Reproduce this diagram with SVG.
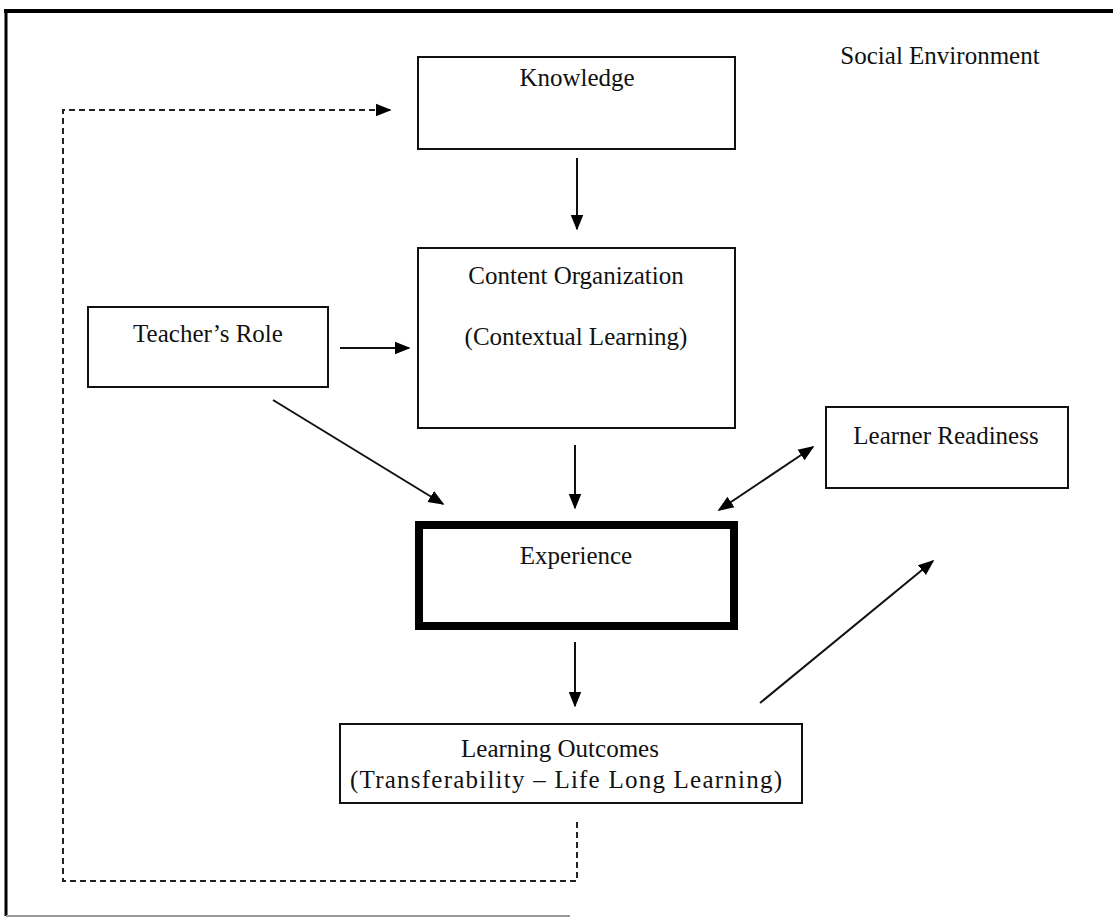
<svg xmlns="http://www.w3.org/2000/svg" width="1113" height="918" viewBox="0 0 1113 918">
<style>
.box{fill:#fff;stroke:#111;stroke-width:2}
.thick{fill:#fff;stroke:#000;stroke-width:8}
.t{font-family:"Liberation Serif","Times New Roman",serif;font-size:25px;fill:#111;text-anchor:middle}
.c{stroke:#111;stroke-width:2;fill:none}
.d{stroke:#222;stroke-width:2;fill:none;stroke-dasharray:6 4}
</style>
<defs>
<marker id="ah" viewBox="0 0 10 10" refX="9" refY="5" markerWidth="16" markerHeight="16" markerUnits="userSpaceOnUse" orient="auto-start-reverse">
<path d="M0,1 L10,5 L0,9 z" fill="#000"/>
</marker>
</defs>
<rect width="1113" height="918" fill="#fff"/>
<g id="frame">
<line x1="4" y1="11" x2="1113" y2="11" stroke="#000" stroke-width="4"/>
<line x1="6" y1="9" x2="6" y2="916" stroke="#000" stroke-width="3"/>
<line x1="6" y1="916" x2="570" y2="916" stroke="#999" stroke-width="2"/>
</g>
<g id="social"><text class="t" x="940" y="64">Social Environment</text></g>
<g id="knowledge"><rect class="box" x="418" y="57" width="317" height="92"/><text class="t" x="577" y="86">Knowledge</text></g>
<g id="content"><rect class="box" x="418" y="248" width="317" height="180"/><text class="t" x="576" y="284">Content Organization</text><text class="t" x="576" y="345">(Contextual Learning)</text></g>
<g id="teacher"><rect class="box" x="88" y="307" width="240" height="80"/><text class="t" x="208" y="342">Teacher’s Role</text></g>
<g id="readiness"><rect class="box" x="826" y="407" width="242" height="81"/><text class="t" x="946" y="444">Learner Readiness</text></g>
<g id="experience"><rect class="thick" x="419" y="525" width="315" height="101"/><text class="t" x="576" y="564">Experience</text></g>
<g id="outcomes"><rect class="box" x="340" y="724" width="462" height="79"/><text class="t" x="560" y="757">Learning Outcomes</text><text class="t" x="566" y="788" textLength="432" lengthAdjust="spacing">(Transferability – Life Long Learning)</text></g>
<g id="connectors">
<line class="c" x1="577" y1="158" x2="577" y2="229" marker-end="url(#ah)"/>
<line class="c" x1="340" y1="348" x2="409" y2="348" marker-end="url(#ah)"/>
<line class="c" x1="273" y1="400" x2="443" y2="504" marker-end="url(#ah)"/>
<line class="c" x1="575" y1="445" x2="575" y2="508" marker-end="url(#ah)"/>
<line class="c" x1="719" y1="510" x2="813" y2="447" marker-start="url(#ah)" marker-end="url(#ah)"/>
<line class="c" x1="575" y1="642" x2="575" y2="706" marker-end="url(#ah)"/>
<line class="c" x1="760" y1="703" x2="933" y2="561" marker-end="url(#ah)"/>
<polyline class="d" points="577,822 577,881 63,881 63,110 390,110" marker-end="url(#ah)"/>
</g>
</svg>
